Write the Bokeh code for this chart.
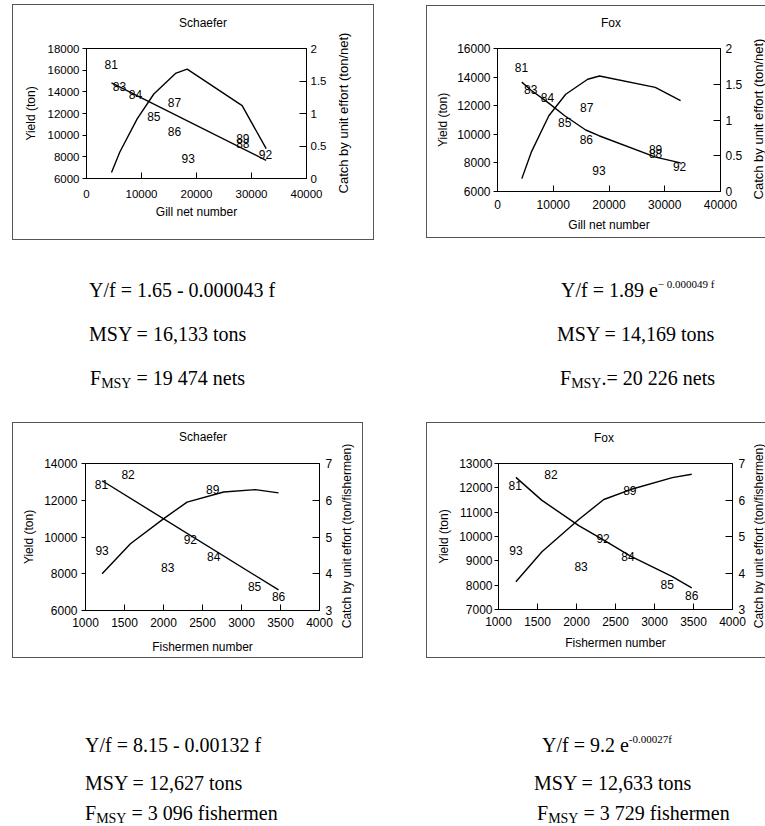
from bokeh.plotting import figure
from bokeh.models import Range1d, LinearAxis, FixedTicker, Div, Spacer, NumeralTickFormatter
from bokeh.layouts import row, column
from bokeh.core.properties import value
from bokeh.embed import file_html
from bokeh.resources import INLINE

# ---------------- data ----------------
gill_x_ticks = [0, 10000, 20000, 30000, 40000]
fish_x_ticks = [1000, 1500, 2000, 2500, 3000, 3500, 4000]

# Panel A: Schaefer, gill nets
a_yield_x = [4545, 6060, 9210, 12240, 16180, 18300, 28300, 32670]
a_yield_y = [6550, 8450, 11510, 13800, 15700, 16100, 12730, 8750]
a_cpue_x = [4545, 32670]
a_cpue_y = [1.47, 0.28]
a_year = ["81", "83", "84", "85", "86", "87", "88", "89", "92", "93"]
a_year_x = [4480, 6000, 8900, 12240, 16000, 16000, 28420, 28420, 32550, 18480]
a_year_y = [1.75, 1.41, 1.30, 0.96, 0.72, 1.17, 0.54, 0.61, 0.37, 0.31]

# Panel B: Fox, gill nets
b_yield_x = [4360, 6060, 9210, 12240, 16180, 18300, 28300, 32840]
b_yield_y = [6900, 8750, 11300, 12800, 13850, 14080, 13280, 12350]
b_cpue_x = [4360, 5970, 8960, 12060, 15820, 18200, 28360, 32840]
b_cpue_y = [1.53, 1.42, 1.25, 1.06, 0.86, 0.78, 0.48, 0.40]
b_year = ["81", "83", "84", "85", "86", "87", "88", "89", "92", "93"]
b_year_x = [4300, 5970, 8960, 12060, 15940, 16000, 28360, 28360, 32660, 18210]
b_year_y = [1.74, 1.42, 1.32, 0.96, 0.73, 1.17, 0.53, 0.59, 0.35, 0.30]

# Panel C: Schaefer, fishermen
c_yield_x = [1213, 1576, 2003, 2302, 2771, 3177, 3475]
c_yield_y = [8000, 9636, 11000, 11900, 12450, 12580, 12400]
c_cpue_x = [1213, 3475]
c_cpue_y = [6.53, 3.56]
c_year = ["81", "82", "83", "84", "85", "86", "89", "92", "93"]
c_year_x = [1205, 1546, 2054, 2644, 3168, 3475, 2630, 2344, 1213]
c_year_y = [6.43, 6.70, 4.18, 4.48, 3.65, 3.39, 6.29, 4.94, 4.64]

# Panel D: Fox, fishermen
d_yield_x = [1223, 1557, 2029, 2350, 2693, 3229, 3477]
d_yield_y = [8140, 9370, 10700, 11520, 11930, 12420, 12560]
d_cpue_x = [1223, 1557, 2029, 2350, 2693, 3229, 3477]
d_cpue_y = [6.62, 5.99, 5.30, 4.90, 4.46, 3.90, 3.59]
d_year = ["81", "82", "83", "84", "85", "86", "89", "92", "93"]
d_year_x = [1214, 1673, 2059, 2659, 3164, 3477, 2684, 2341, 1223]
d_year_y = [6.41, 6.70, 4.19, 4.46, 3.68, 3.37, 6.25, 4.94, 4.62]

# equation texts
top_left_lines = ["Y/f = 1.65 - 0.000043 f", "MSY = 16,133 tons", ("F", "MSY", " = 19 474 nets")]
top_right_lines = [("Y/f = 1.89 e", "\u2212 0.000049 f"), "MSY = 14,169 tons", ("F", "MSY", ".= 20 226 nets")]
bot_left_lines = ["Y/f = 8.15 - 0.00132 f", "MSY = 12,627 tons", ("F", "MSY", " = 3 096 fishermen")]
bot_right_lines = [("Y/f = 9.2 e", "-0.00027f"), "MSY = 12,633 tons", ("F", "MSY", " = 3 729 fishermen")]

FONT = "Liberation Sans"
CSS_SANS = "'Liberation Sans',Arial,sans-serif"


def style_axis(ax, fs, lfs, tin, tout, ls, als, label, ticks):
    ax.ticker = FixedTicker(ticks=ticks, minor_ticks=[])
    if label:
        ax.axis_label = label
    ax.axis_line_color = "black"
    ax.axis_line_width = 1
    ax.major_tick_line_color = "black"
    ax.minor_tick_line_color = None
    ax.major_tick_in = tin
    ax.major_tick_out = tout
    ax.major_label_standoff = ls
    ax.axis_label_standoff = als
    ax.major_label_text_font = FONT
    ax.major_label_text_font_size = f"{fs}px"
    ax.major_label_text_color = "black"
    ax.axis_label_text_font = FONT
    ax.axis_label_text_font_size = f"{lfs}px"
    ax.axis_label_text_font_style = "normal"
    ax.axis_label_text_color = "black"


def text_div(w, h, text, cx, cy, fs, rotate=False):
    tf = "translate(-50%,-50%)" + (" rotate(-90deg)" if rotate else "")
    html = (f'<div style="position:relative;width:{w}px;height:{h}px;">'
            f'<div style="position:absolute;left:{cx}px;top:{cy}px;transform:{tf};'
            f'white-space:nowrap;font-family:{CSS_SANS};font-size:{fs}px;line-height:1;'
            f'color:#000;">{text}</div></div>')
    return Div(text=html, width=w, height=h, margin=0)


def panel(title, x_rng, x_ticks, yl_rng, yl_ticks, yr_rng, yr_ticks, xlabel, rlabel,
          g, fonts, sd, box_css, yx, yy, cx, cy, tx, ty, tt, numeral=False):
    # g: panel width, title height, figure width, figure height, borders(l, r, t, b)
    pw, th, fw, fh, (bl_, br_, bt_, bb_) = g
    fs, lfs, rfs = fonts
    p = figure(width=fw, height=fh, x_range=Range1d(*x_rng), y_range=Range1d(*yl_rng),
               output_backend="svg", toolbar_location=None,
               min_border_left=bl_, min_border_right=br_,
               min_border_top=bt_, min_border_bottom=bb_)
    p.border_fill_alpha = 0
    p.background_fill_color = "white"
    p.outline_line_color = "black"
    p.outline_line_width = 1
    p.xgrid.visible = False
    p.ygrid.visible = False

    style_axis(p.below[0], fs, lfs, 6, 0, sd["xls"], sd["xals"], xlabel, x_ticks)
    style_axis(p.left[0], fs, lfs, 0, 4, sd["lls"], sd["lals"], "Yield (ton)", yl_ticks)

    p.extra_y_ranges = {"cpue": Range1d(*yr_rng)}
    ra = LinearAxis(y_range_name="cpue")
    style_axis(ra, fs, lfs, 7, 0, sd["rls"], 0, None, yr_ticks)
    if numeral:
        ra.formatter = NumeralTickFormatter(format="0.[0]")
    p.add_layout(ra, "right")

    p.line(yx, yy, line_color="black", line_width=1.4)
    p.line(cx, cy, line_color="black", line_width=1.4, y_range_name="cpue")
    p.text(x=tx, y=ty, text=tt, y_range_name="cpue", text_align="center",
           text_baseline="middle", text_font=value(FONT), text_font_size=value("12px"),
           text_color="black")

    title_div = text_div(pw, th, title, sd["tcx"], sd["tcy"], 12)
    rlab_div = text_div(pw - fw, fh, rlabel, sd["rcx"], sd["rcy"], rfs, rotate=True)
    return column(title_div, row(p, rlab_div), styles=box_css)


box_full = {"box-shadow": "inset 0 0 0 1px #555"}
box_open = {"box-shadow": "inset 1px 1px 0 #555, inset 0 -1px 0 #555"}

pA = panel("Schaefer", (0, 40000), gill_x_ticks, (6000, 18000), list(range(6000, 18001, 2000)),
           (0, 2), [0, 0.5, 1, 1.5, 2], "Gill net number", "Catch by unit effort (ton/net)",
           (362, 30, 324, 206, (74, 30, 14, 62)), (11.5, 12, 13),
           dict(tcx=191, tcy=19, xls=11, xals=4, lls=3, lals=7, rls=4, rcx=7, rcy=79), box_full,
           a_yield_x, a_yield_y, a_cpue_x, a_cpue_y, a_year_x, a_year_y, a_year, numeral=True)

pB = panel("Fox", (0, 40000), gill_x_ticks, (6000, 16000), list(range(6000, 16001, 2000)),
           (0, 2), [0, 0.5, 1, 1.5, 2], "Gill net number", "Catch by unit effort (ton/net)",
           (339, 30, 319, 203, (71, 25, 13, 47)), (12, 12, 13),
           dict(tcx=185, tcy=18, xls=8, xals=6, lls=3, lals=4, rls=5, rcx=13, rcy=84), box_open,
           b_yield_x, b_yield_y, b_cpue_x, b_cpue_y, b_year_x, b_year_y, b_year, numeral=True)

pC = panel("Schaefer", (1000, 4000), fish_x_ticks, (6000, 14000), list(range(6000, 14001, 2000)),
           (3, 7), [3, 4, 5, 6, 7], "Fishermen number", "Catch by unit effort (ton/fishermen)",
           (351, 30, 326, 206, (73, 19, 11, 48)), (12, 12, 12),
           dict(tcx=191, tcy=15, xls=7, xals=10, lls=4, lals=5, rls=6, rcx=9, rcy=84), box_full,
           c_yield_x, c_yield_y, c_cpue_x, c_cpue_y, c_year_x, c_year_y, c_year)

pD = panel("Fox", (1000, 4000), fish_x_ticks, (7000, 13000), list(range(7000, 13001, 1000)),
           (3, 7), [3, 4, 5, 6, 7], "Fishermen number", "Catch by unit effort (ton/fishermen)",
           (339, 30, 326, 206, (72, 20, 11, 49)), (12, 12, 12),
           dict(tcx=178, tcy=16, xls=7, xals=7, lls=2, lals=5, rls=6, rcx=7, rcy=84), box_open,
           d_yield_x, d_yield_y, d_cpue_x, d_cpue_y, d_year_x, d_year_y, d_year)


def line_html(item):
    if isinstance(item, str):
        return item
    if len(item) == 2:
        return f'{item[0]}<span style="font-size:11px;position:relative;top:-9px;">{item[1]}</span>'
    return (f'{item[0]}<span style="font-size:14px;position:relative;top:3px;">{item[1]}</span>'
            f'{item[2]}')


def text_block(width, height, lines, xs, ys):
    inner = ""
    for it, x, y in zip(lines, xs, ys):
        inner += (f'<div style="position:absolute;left:{x}px;top:{y - 10}px;height:20px;'
                  f'line-height:20px;white-space:nowrap;">{line_html(it)}</div>')
    html = (f'<div style="position:relative;width:{width}px;height:{height}px;'
            f"font-family:'Liberation Serif','Times New Roman',serif;font-size:20px;color:#000;\">"
            f'{inner}</div>')
    return Div(text=html, width=width, height=height, margin=0)


tl = text_block(420, 182, top_left_lines, [89, 89, 90], [50, 94, 138])
tr = text_block(345, 182, top_right_lines, [141, 137, 140], [50, 94, 138])
bl = text_block(420, 168, bot_left_lines, [85, 85, 85], [87, 125, 155])
br = text_block(345, 168, bot_right_lines, [122, 114, 117], [87, 125, 155])

rowA = row(Spacer(width=12, height=240), column(Spacer(width=362, height=4), pA),
           Spacer(width=52, height=240), column(Spacer(width=339, height=5), pB))
rowB = row(tl, tr)
rowC = row(Spacer(width=12, height=236), pC, Spacer(width=63, height=236), pD)
rowD = row(bl, br)
layout = column(rowA, rowB, rowC, rowD)

open("out.html", "w").write(file_html(layout, INLINE))
